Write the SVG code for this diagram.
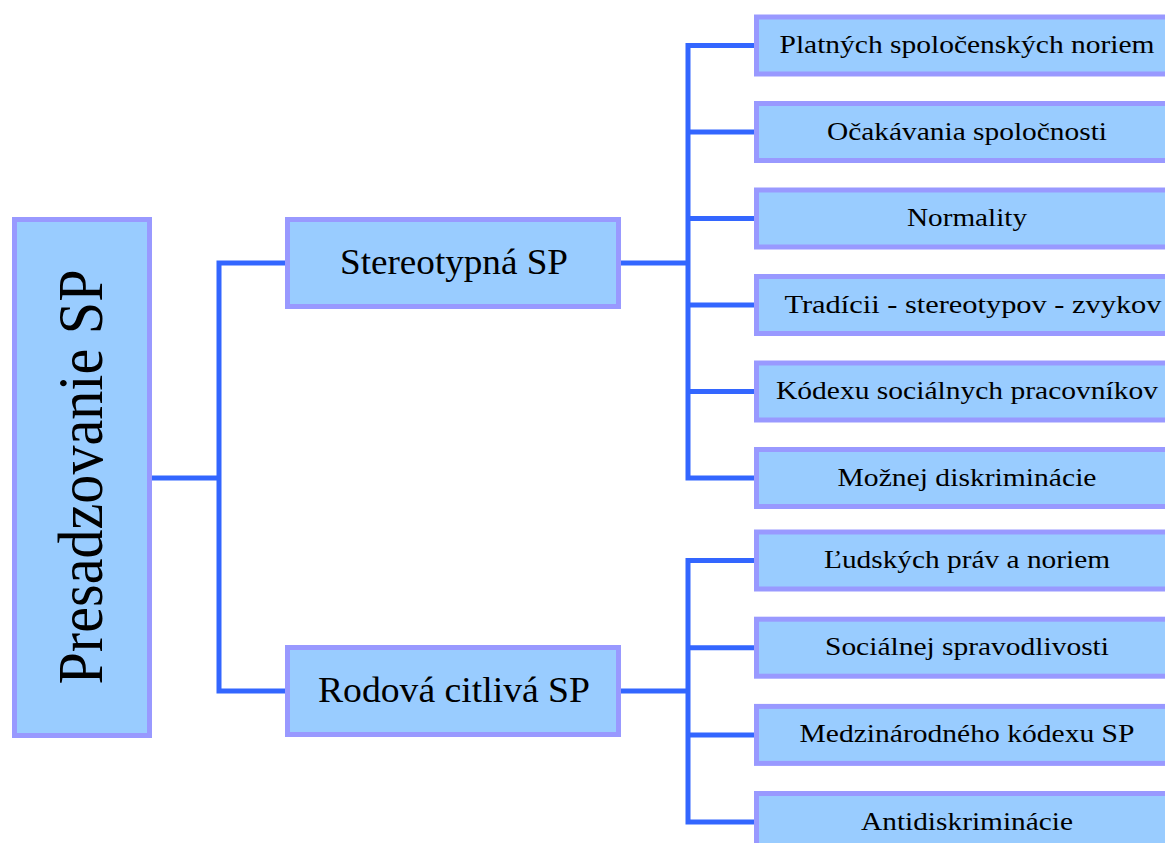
<svg xmlns="http://www.w3.org/2000/svg" width="1165" height="843" viewBox="0 0 1165 843">
<style>
.box{fill:#99CCFF;stroke:#9999FF;stroke-width:5}
.con{fill:none;stroke:#3366FF;stroke-width:5;stroke-linejoin:miter}
text{font-family:"Liberation Serif","Times New Roman",serif;fill:#000;text-anchor:middle}
.s{font-size:26px}
.m{font-size:35px}
</style>
<rect width="1165" height="843" fill="#fff"/>
<g id="connectors">
<path class="con" d="M152,478 H219 M285,263 H219 V691 H285"/>
<path class="con" d="M621,263 H688 M754,45.5 H688 V478 H754 M688,132 H754 M688,218.5 H754 M688,305 H754 M688,391.5 H754"/>
<path class="con" d="M621,691 H688 M754,560.5 H688 V822 H754 M688,647.7 H754 M688,734.9 H754"/>
</g>
<g id="root"><rect class="box" x="14.5" y="219.5" width="135" height="516"/>
<text transform="translate(102,477) rotate(-90)" font-size="64" textLength="415" lengthAdjust="spacingAndGlyphs">Presadzovanie SP</text></g>
<g id="stereo"><rect class="box" x="287.5" y="219.5" width="331" height="87"/>
<text class="m" x="454" y="274" textLength="228" lengthAdjust="spacingAndGlyphs">Stereotypná SP</text></g>
<g id="rodova"><rect class="box" x="287.5" y="647.5" width="331" height="87"/>
<text class="m" x="454" y="702" textLength="272" lengthAdjust="spacingAndGlyphs">Rodová citlivá SP</text></g>
<g id="n1"><rect class="box" x="756.5" y="17" width="430" height="57"/><text class="s" x="967" y="53" textLength="375" lengthAdjust="spacingAndGlyphs">Platných spoločenských noriem</text></g>
<g id="n2"><rect class="box" x="756.5" y="103.5" width="430" height="57"/><text class="s" x="967" y="139.5" textLength="280" lengthAdjust="spacingAndGlyphs">Očakávania spoločnosti</text></g>
<g id="n3"><rect class="box" x="756.5" y="190" width="430" height="57"/><text class="s" x="967" y="226" textLength="120" lengthAdjust="spacingAndGlyphs">Normality</text></g>
<g id="n4"><rect class="box" x="756.5" y="276.5" width="430" height="57"/><text class="s" x="973" y="312.5" textLength="377" lengthAdjust="spacingAndGlyphs">Tradícii - stereotypov - zvykov</text></g>
<g id="n5"><rect class="box" x="756.5" y="363" width="430" height="57"/><text class="s" x="967" y="399" textLength="382" lengthAdjust="spacingAndGlyphs">Kódexu sociálnych pracovníkov</text></g>
<g id="n6"><rect class="box" x="756.5" y="449.5" width="430" height="57"/><text class="s" x="967" y="485.5" textLength="259" lengthAdjust="spacingAndGlyphs">Možnej diskriminácie</text></g>
<g id="n7"><rect class="box" x="756.5" y="532" width="430" height="57"/><text class="s" x="967" y="568" textLength="286" lengthAdjust="spacingAndGlyphs">Ľudských práv a noriem</text></g>
<g id="n8"><rect class="box" x="756.5" y="619.2" width="430" height="57"/><text class="s" x="967" y="655.2" textLength="284" lengthAdjust="spacingAndGlyphs">Sociálnej spravodlivosti</text></g>
<g id="n9"><rect class="box" x="756.5" y="706.4" width="430" height="57"/><text class="s" x="967" y="742.4" textLength="335" lengthAdjust="spacingAndGlyphs">Medzinárodného kódexu SP</text></g>
<g id="n10"><rect class="box" x="756.5" y="793.5" width="430" height="57"/><text class="s" x="967" y="829.5" textLength="212" lengthAdjust="spacingAndGlyphs">Antidiskriminácie</text></g>
</svg>
